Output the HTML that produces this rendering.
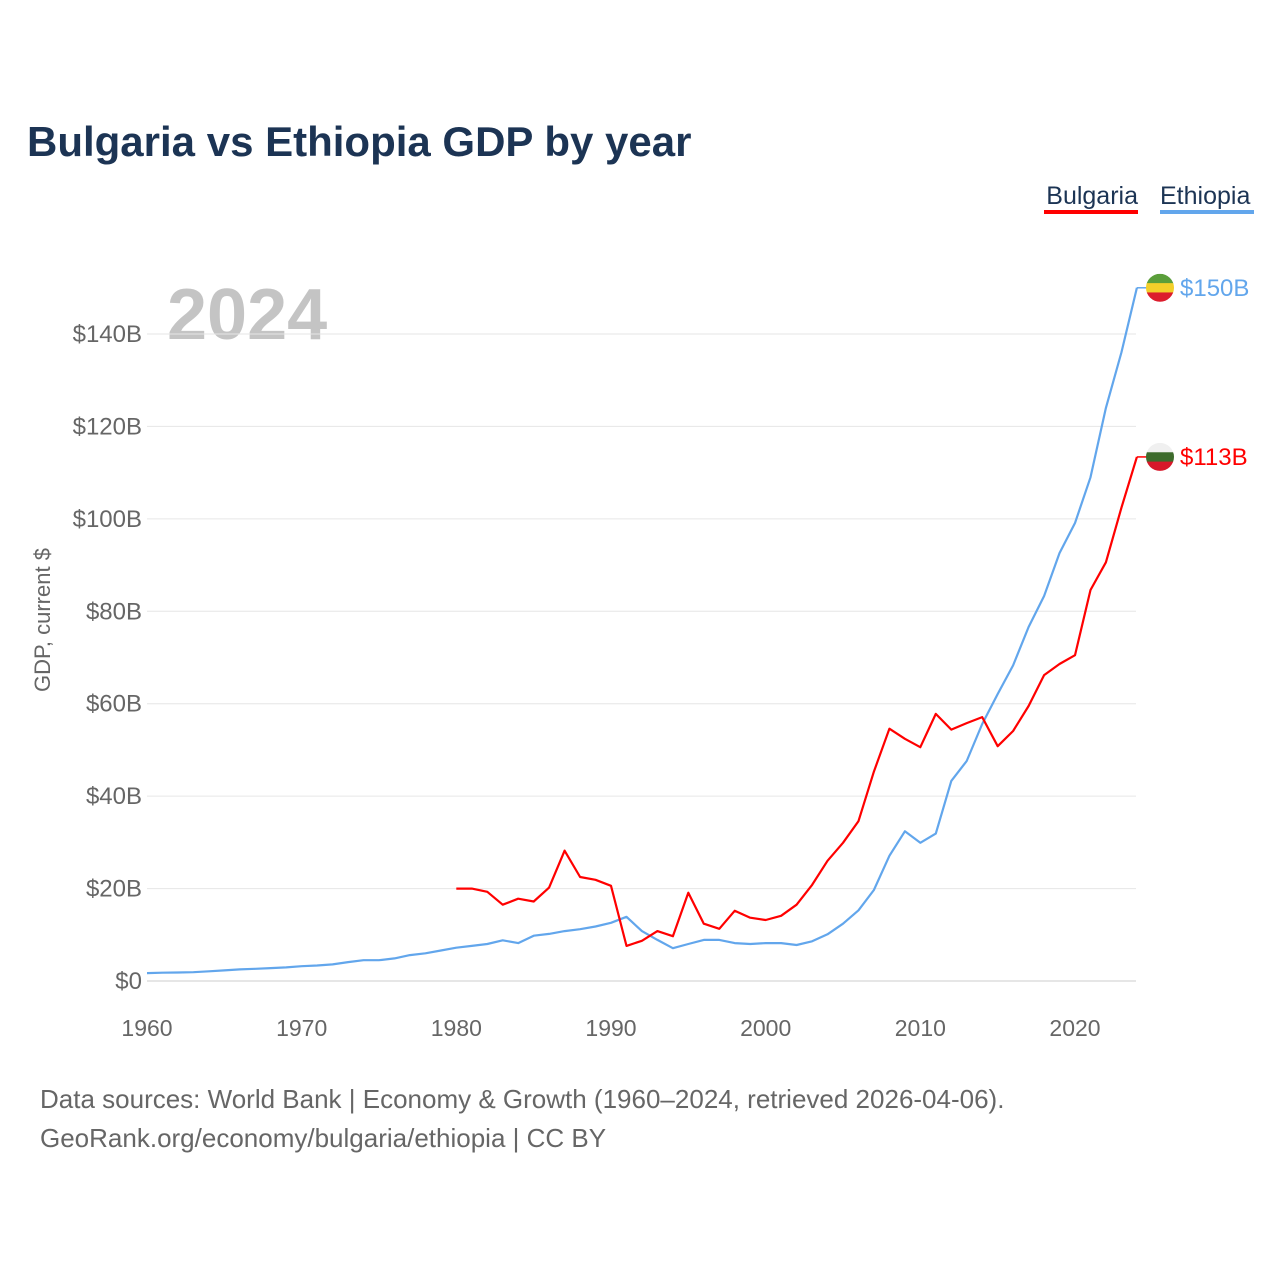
<!DOCTYPE html>
<html><head><meta charset="utf-8"><style>
body{margin:0;background:#fff;font-family:"Liberation Sans",sans-serif}
svg text{font-family:"Liberation Sans",sans-serif}
</style></head><body>
<svg width="1280" height="1280" viewBox="0 0 1280 1280" id="chart">
<rect width="1280" height="1280" fill="#fff"/>
<text x="27" y="156" font-size="42" font-weight="bold" fill="#1c3454">Bulgaria vs Ethiopia GDP by year</text>
<g><text x="1138" y="204" text-anchor="end" font-size="25" fill="#1c3454">Bulgaria</text><rect x="1044" y="210" width="94" height="4" fill="#ff0000"/></g>
<g><text x="1160" y="204" font-size="25" fill="#1c3454">Ethiopia</text><rect x="1160" y="210" width="94" height="4" fill="#62a6ec"/></g>
<text x="167" y="339" font-size="72" font-weight="bold" fill="#c4c4c4">2024</text>
<text transform="translate(50,620) rotate(-90)" text-anchor="middle" font-size="22" fill="#666">GDP, current $</text>
<g id="grid"></g><g id="yt"></g><g id="xt"></g><g id="lines"></g>
<text x="40" y="1108" font-size="26" fill="#666">Data sources: World Bank | Economy &amp; Growth (1960–2024, retrieved 2026-04-06).</text>
<text x="40" y="1147" font-size="26" fill="#666">GeoRank.org/economy/bulgaria/ethiopia | CC BY</text>
</svg>
<script>
const yTicks=[0,20,40,60,80,100,120,140];
const xTicks=[1960,1970,1980,1990,2000,2010,2020];
const ethStart=1960;
const ethiopia=[1.7,1.8,1.85,1.9,2.1,2.3,2.5,2.65,2.8,2.95,3.2,3.35,3.6,4.1,4.5,4.5,4.9,5.6,6.0,6.6,7.2,7.6,8.0,8.8,8.2,9.8,10.2,10.8,11.2,11.8,12.6,13.9,10.8,8.9,7.1,8.0,8.9,8.9,8.2,8.0,8.2,8.2,7.8,8.6,10.1,12.4,15.3,19.7,27.1,32.4,29.9,31.9,43.3,47.6,55.6,62.1,68.3,76.6,83.3,92.6,99.1,109,124,136,150];
const bulStart=1980;
const bulgaria=[20.0,20.0,19.3,16.5,17.8,17.2,20.2,28.2,22.5,21.9,20.6,7.6,8.7,10.8,9.7,19.1,12.4,11.3,15.2,13.7,13.2,14.1,16.5,20.8,26.0,29.9,34.6,45.3,54.6,52.4,50.6,57.8,54.4,55.8,57.1,50.8,54.1,59.5,66.2,68.6,70.5,84.6,90.6,102.4,113.4];
const NS='http://www.w3.org/2000/svg';
const X=y=>147+(y-1960)*(1075-147)/60;
const Y=v=>981-v*(981-334)/140;
function mk(t,a,p){const e=document.createElementNS(NS,t);for(const k in a)e.setAttribute(k,a[k]);document.getElementById(p).appendChild(e);return e;}
yTicks.forEach(v=>{
 const l=mk('line',{x1:147,x2:1136,y1:Y(v),y2:Y(v),stroke:v?'#e6e6e6':'#ccc','stroke-width':1},'grid');
 
 
 const t=mk('text',{x:142,y:Y(v)+8,'text-anchor':'end','font-size':24,fill:'#666'},'yt');
 t.textContent='$'+v+(v?'B':'');
 
 
});
xTicks.forEach(y=>{
 const t=mk('text',{x:X(y),y:1036,'text-anchor':'middle','font-size':23,fill:'#666'},'xt');
 t.textContent=y;
 
 
});
function series(arr,start,col,name,label,flag){
 const d=arr.map((v,i)=>(i?'L':'M')+X(start+i).toFixed(1)+','+Y(v).toFixed(1)).join('');
 const p=mk('path',{d,fill:'none',stroke:col,'stroke-width':2.2,'stroke-linejoin':'round'},'lines');
 
 
 const lv=arr[arr.length-1],ly=Y(lv),lx=X(start+arr.length-1);
 mk('line',{x1:lx,x2:lx+10,y1:ly,y2:ly,stroke:col,'stroke-width':1.5},'lines');
 const g=mk('g',{},'lines');
 
 
 const cx=1160,r=14;
 flag.forEach((c,i)=>{const h=2*r/3;const cp=document.createElementNS(NS,'rect');cp.setAttribute('x',cx-r);cp.setAttribute('y',ly-r+i*h);cp.setAttribute('width',2*r);cp.setAttribute('height',h+0.5);cp.setAttribute('fill',c);cp.setAttribute('clip-path','url(#c'+name+')');g.appendChild(cp);});
 const cl=document.createElementNS(NS,'clipPath');cl.setAttribute('id','c'+name);const cc=document.createElementNS(NS,'circle');cc.setAttribute('cx',cx);cc.setAttribute('cy',ly);cc.setAttribute('r',r);cl.appendChild(cc);g.appendChild(cl);
 const t=mk('text',{x:1180,y:ly+8,'font-size':24,fill:col},'lines');
 t.textContent=label;
 
 
}
series(ethiopia,ethStart,'#62a6ec','ethiopia','$'+Math.round(ethiopia[ethiopia.length-1])+'B',['#5a9e3a','#f2cf2a','#dc1c2c']);
series(bulgaria,bulStart,'#ff0000','bulgaria','$'+Math.round(bulgaria[bulgaria.length-1])+'B',['#f0f0f0','#3d6b2c','#d8182a']);
</script>
</body></html>
